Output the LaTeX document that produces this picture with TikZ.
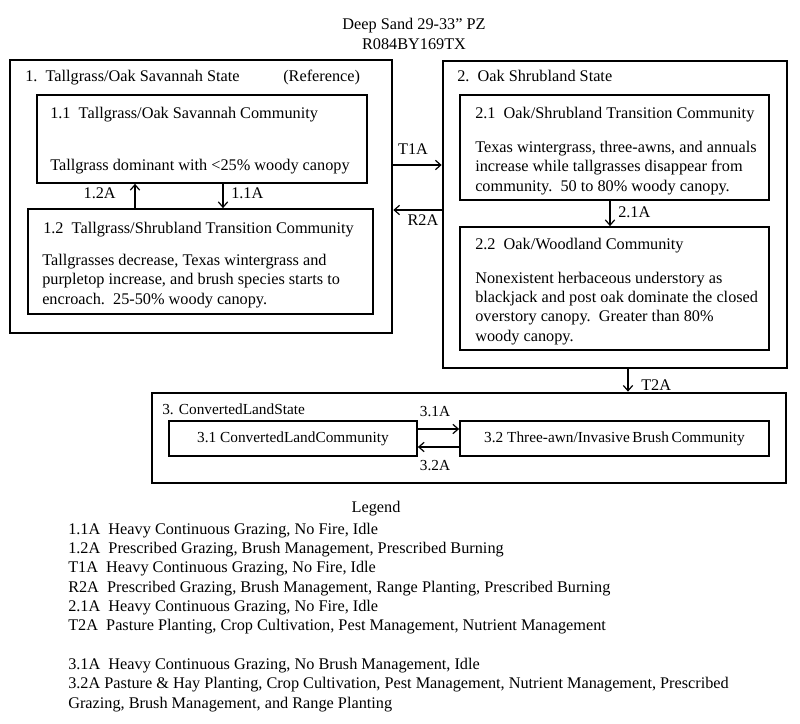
\documentclass[tikz,border=0pt]{standalone}
\usepackage{fontspec}
\setmainfont{Liberation Serif}
\usetikzlibrary{arrows.meta,positioning,fit}

\begin{document}
\begin{tikzpicture}[
    x=0.75pt, y=-0.75pt,
    state/.style={draw, line width=2pt, inner sep=0pt},
    comm/.style={draw, line width=1.3pt, inner sep=0pt},
    txt/.style={inner sep=0pt, anchor=base west, align=left, font=\fontsize{12.2}{14.4}\selectfont},
    lbl/.style={inner sep=0pt, font=\fontsize{12.2}{14.4}\selectfont},
    small/.style={inner sep=0pt, font=\fontsize{11.5}{13}\selectfont},
    arrow/.style={-{Straight Barb[length=4pt,width=7pt]}, line width=0.9pt}
]
    \useasboundingbox (0,0) rectangle (800,724);

    \node[lbl, align=center] (title) at (414,34) {Deep Sand 29-33" PZ\\R084BY169TX};

    \node[state, fit={(10,60) (392,333)}] (s1) {};
    \node[state, fit={(443,61) (787,368)}] (s2) {};
    \node[state, fit={(152,393) (786,483)}] (s3) {};

    \node[comm, fit={(37,95) (367,183)}] (c11) {};
    \node[comm, fit={(28,209) (373,314)}] (c12) {};
    \node[comm, fit={(460,95) (769,200)}] (c21) {};
    \node[comm, fit={(460,227) (769,350)}] (c22) {};
    \node[comm, fit={(169,421) (417,456)}] (c31) {};
    \node[comm, fit={(460,421) (769,456)}] (c32) {};

    \node[txt] (s1name) at (25,82) {1.\ \ Tallgrass/Oak Savannah State};
    \node[txt] (s1ref) at (283,82) {(Reference)};
    \node[txt] (c11name) at (50,118) {1.1\ \ Tallgrass/Oak Savannah Community};
    \node[txt] (c11body) at (50,171) {Tallgrass dominant with <25\% woody canopy};
    \node[txt] (c12name) at (43,233) {1.2\ \ Tallgrass/Shrubland Transition Community};
    \node[txt] (c12body) at (42,304) {Tallgrasses decrease, Texas wintergrass and\\
        purpletop increase, and brush species starts to\\
        encroach.\ \ 25-50\% woody canopy.};

    \node[txt] (s2name) at (457,82) {2.\ \ Oak Shrubland State};
    \node[txt] (c21name) at (475,118) {2.1\ \ Oak/Shrubland Transition Community};
    \node[txt] (c21body) at (475,191) {Texas wintergrass, three-awns, and annuals\\
        increase while tallgrasses disappear from\\
        community.\ \ 50 to 80\% woody canopy.};
    \node[txt] (c22name) at (475,249) {2.2\ \ Oak/Woodland Community};
    \node[txt] (c22body) at (475,341) {Nonexistent herbaceous understory as\\
        blackjack and post oak dominate the closed\\
        overstory canopy.\ \ Greater than 80\%\\
        woody canopy.};

    \node[small, anchor=base west] (s3name) at (162,414) {3. ConvertedLandState};
    \node[small] (c31name) at (c31) {3.1 ConvertedLandCommunity};
    \node[small] (c32name) at (c32) {3.2 Three-awn/Invasive\,Brush\,Community};

    \draw[arrow] (c12.north -| 135,0) -- (c11.south -| 135,0);
    \node[lbl, anchor=east] (l12a) at (116,193) {1.2A};
    \draw[arrow] (c11.south -| 223,0) -- (c12.north -| 223,0);
    \node[lbl, anchor=west] (l11a) at (231,193) {1.1A};

    \draw[arrow] (s1.east |- 0,165) -- (s2.west |- 0,165);
    \node[lbl] (lt1a) at (413,149) {T1A};
    \draw[arrow] (s2.west |- 0,210) -- (s1.east |- 0,210);
    \node[lbl] (lr2a) at (423,220) {R2A};

    \draw[arrow] (c21.south -| 610,0) -- (c22.north -| 610,0);
    \node[lbl, anchor=west] (l21a) at (618,212) {2.1A};

    \draw[arrow] (s2.south -| 628,0) -- (s3.north -| 628,0);
    \node[lbl, anchor=west] (lt2a) at (641,385) {T2A};

    \draw[arrow] (c31.east |- 0,429) -- (c32.west |- 0,429);
    \node[small] (l31a) at (435,412) {3.1A};
    \draw[arrow] (c32.west |- 0,447) -- (c31.east |- 0,447);
    \node[small] (l32a) at (435,466) {3.2A};

    \node[lbl] (legend) at (376,509) {Legend};
    \node[txt, font=\fontsize{12.2}{14.5}\selectfont] (items) at (68,708) {1.1A\ \ Heavy Continuous Grazing, No Fire, Idle\\
        1.2A\ \ Prescribed Grazing, Brush Management, Prescribed Burning\\
        T1A\ \ Heavy Continuous Grazing, No Fire, Idle\\
        R2A\ \ Prescribed Grazing, Brush Management, Range Planting, Prescribed Burning\\
        2.1A\ \ Heavy Continuous Grazing, No Fire, Idle\\
        T2A\ \ Pasture Planting, Crop Cultivation, Pest Management, Nutrient Management\\[14.5pt]
        3.1A\ \ Heavy Continuous Grazing, No Brush Management, Idle\\
        3.2A Pasture \& Hay Planting, Crop Cultivation, Pest Management, Nutrient Management, Prescribed\\
        Grazing, Brush Management, and Range Planting};
\end{tikzpicture}
\end{document}
